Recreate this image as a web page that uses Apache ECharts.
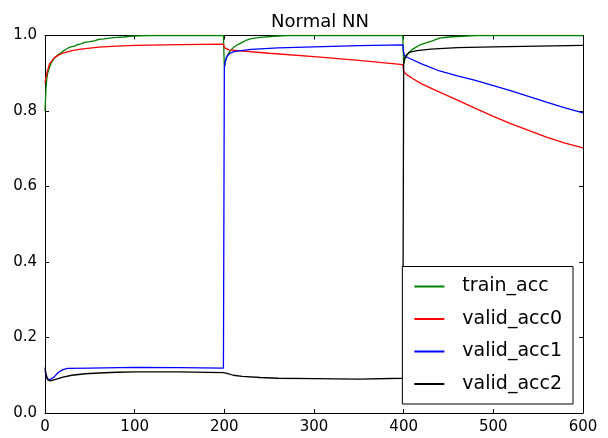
<!DOCTYPE html>
<html>
<head>
<meta charset="utf-8">
<script src="https://cdn.jsdelivr.net/npm/echarts@6/dist/echarts.min.js"></script>
<style>
html,body{margin:0;padding:0;background:#fff;}
#chart{width:608px;height:438px;}
</style>
</head>
<body>
<div id="chart"></div>
<script>
const titleText = 'Normal NN';
const seriesNames = ['train_acc', 'valid_acc0', 'valid_acc1', 'valid_acc2'];
const xTicks = [0, 100, 200, 300, 400, 500, 600];
const yTicks = [0.0, 0.2, 0.4, 0.6, 0.8, 1.0];

const trainEpochs = [0,1,2,3,5,7,9,11,14,17,20,23,26,29,33,36,40,44,50,55,60,66,72,80,88,95,105,115,199,
  200,201,203,206,210,215,220,225,230,240,255,270,399,
  400,401,403,406,409,413,418,424,432,440,450,465,480,600];
const trainAcc = [0.80,0.855,0.885,0.90,0.915,0.928,0.935,0.942,0.948,0.953,0.958,0.963,0.967,0.970,0.972,0.976,0.978,0.982,0.984,0.986,0.990,0.991,0.993,0.995,0.996,0.998,0.999,1.0,1.0,
  0.915,0.93,0.945,0.958,0.968,0.976,0.982,0.988,0.992,0.995,0.998,1.0,1.0,
  0.925,0.935,0.945,0.955,0.962,0.968,0.975,0.980,0.986,0.993,0.996,0.998,1.0,1.0];

const valid0Epochs = [0,2,5,10,15,20,30,40,60,80,100,150,199,200,205,250,300,350,399,400,403,410,420,440,460,480,500,520,540,560,580,600];
const validAcc0 = [0.875,0.90,0.925,0.94,0.948,0.953,0.960,0.964,0.969,0.972,0.974,0.976,0.977,0.968,0.962,0.953,0.944,0.934,0.923,0.905,0.897,0.886,0.872,0.850,0.829,0.807,0.786,0.766,0.748,0.730,0.715,0.702];

const valid1Epochs = [0,2,5,10,15,20,25,50,100,150,199,200,201,202,204,207,212,230,260,300,350,399,400,401,405,420,440,460,480,500,520,540,560,580,600];
const validAcc1 = [0.112,0.092,0.088,0.095,0.108,0.115,0.118,0.119,0.121,0.120,0.119,0.915,0.93,0.94,0.948,0.954,0.958,0.963,0.967,0.970,0.973,0.975,0.955,0.946,0.941,0.925,0.906,0.893,0.881,0.867,0.853,0.838,0.823,0.808,0.795];

const valid2Epochs = [0,1,3,6,10,20,30,45,60,80,100,150,199,200,203,210,220,240,260,300,350,399,400,401,403,406,415,430,460,500,550,600];
const validAcc2 = [0.120,0.105,0.088,0.085,0.088,0.095,0.100,0.104,0.106,0.108,0.109,0.109,0.107,0.110,0.105,0.100,0.097,0.094,0.092,0.091,0.090,0.092,0.925,0.940,0.948,0.955,0.960,0.964,0.968,0.970,0.972,0.974];

const seriesColors = ['#008000', '#ff0000', '#0000ff', '#000000'];
const epochLists = [trainEpochs, valid0Epochs, valid1Epochs, valid2Epochs];
const valueLists = [trainAcc, validAcc0, validAcc1, validAcc2];

const chart = echarts.init(document.getElementById('chart'), null, {renderer: 'canvas'});
const font = 'DejaVu Sans';

const series = seriesNames.map((name, i) => ({
  name: name,
  type: 'line',
  xAxisIndex: 0,
  yAxisIndex: 0,
  data: epochLists[i].map((e, j) => [e, valueLists[i][j]]),
  showSymbol: false,
  symbol: 'none',
  clip: true,
  lineStyle: {color: seriesColors[i], width: 1.3},
  itemStyle: {color: seriesColors[i]},
  animation: false
}));

const grid = {left: 45, right: 25, top: 35.5, bottom: 25, show: false};

chart.setOption({
  backgroundColor: '#ffffff',
  animation: false,
  title: {
    text: titleText,
    left: 315, top: 8, textAlign: 'center',
    textStyle: {fontFamily: font, fontSize: 18, fontWeight: 'normal', color: '#000'}
  },
  grid: grid,
  legend: {
    data: seriesNames,
    orient: 'vertical',
    right: 35, bottom: 34,
    backgroundColor: '#ffffff',
    borderColor: '#000000',
    borderWidth: 1,
    borderRadius: 0,
    padding: [9, 11, 9, 12],
    itemGap: 10.5,
    itemWidth: 30,
    itemHeight: 2,
    icon: 'rect',
    textStyle: {fontFamily: font, fontSize: 19, color: '#000', padding: [0, 0, 0, 13], lineHeight: 22}
  },
  xAxis: [{
    type: 'value', min: 0, max: 600, interval: 100,
    axisLine: {show: true, onZero: false, lineStyle: {color: '#000', width: 1}},
    axisTick: {show: true, inside: true, length: 4, lineStyle: {color: '#000'}},
    axisLabel: {fontFamily: font, fontSize: 15, color: '#000', margin: 7,
      formatter: v => xTicks.includes(v) ? String(v) : ''},
    splitLine: {show: false}
  }, {
    type: 'value', min: 0, max: 600, interval: 100, position: 'top',
    axisLine: {show: true, onZero: false, lineStyle: {color: '#000', width: 1}},
    axisTick: {show: true, inside: true, length: 4, lineStyle: {color: '#000'}},
    axisLabel: {show: false},
    splitLine: {show: false}
  }],
  yAxis: [{
    type: 'value', min: 0, max: 1, interval: 0.2,
    axisLine: {show: true, onZero: false, lineStyle: {color: '#000', width: 1}},
    axisTick: {show: true, inside: true, length: 4, lineStyle: {color: '#000'}},
    axisLabel: {fontFamily: font, fontSize: 15, color: '#000', margin: 8,
      formatter: v => yTicks.some(t => Math.abs(t - v) < 1e-9) ? v.toFixed(1) : ''},
    splitLine: {show: false}
  }, {
    type: 'value', min: 0, max: 1, interval: 0.2, position: 'right',
    axisLine: {show: true, onZero: false, lineStyle: {color: '#000', width: 1}},
    axisTick: {show: true, inside: true, length: 4, lineStyle: {color: '#000'}},
    axisLabel: {show: false},
    splitLine: {show: false}
  }],
  series: series
});
</script>
</body>
</html>
